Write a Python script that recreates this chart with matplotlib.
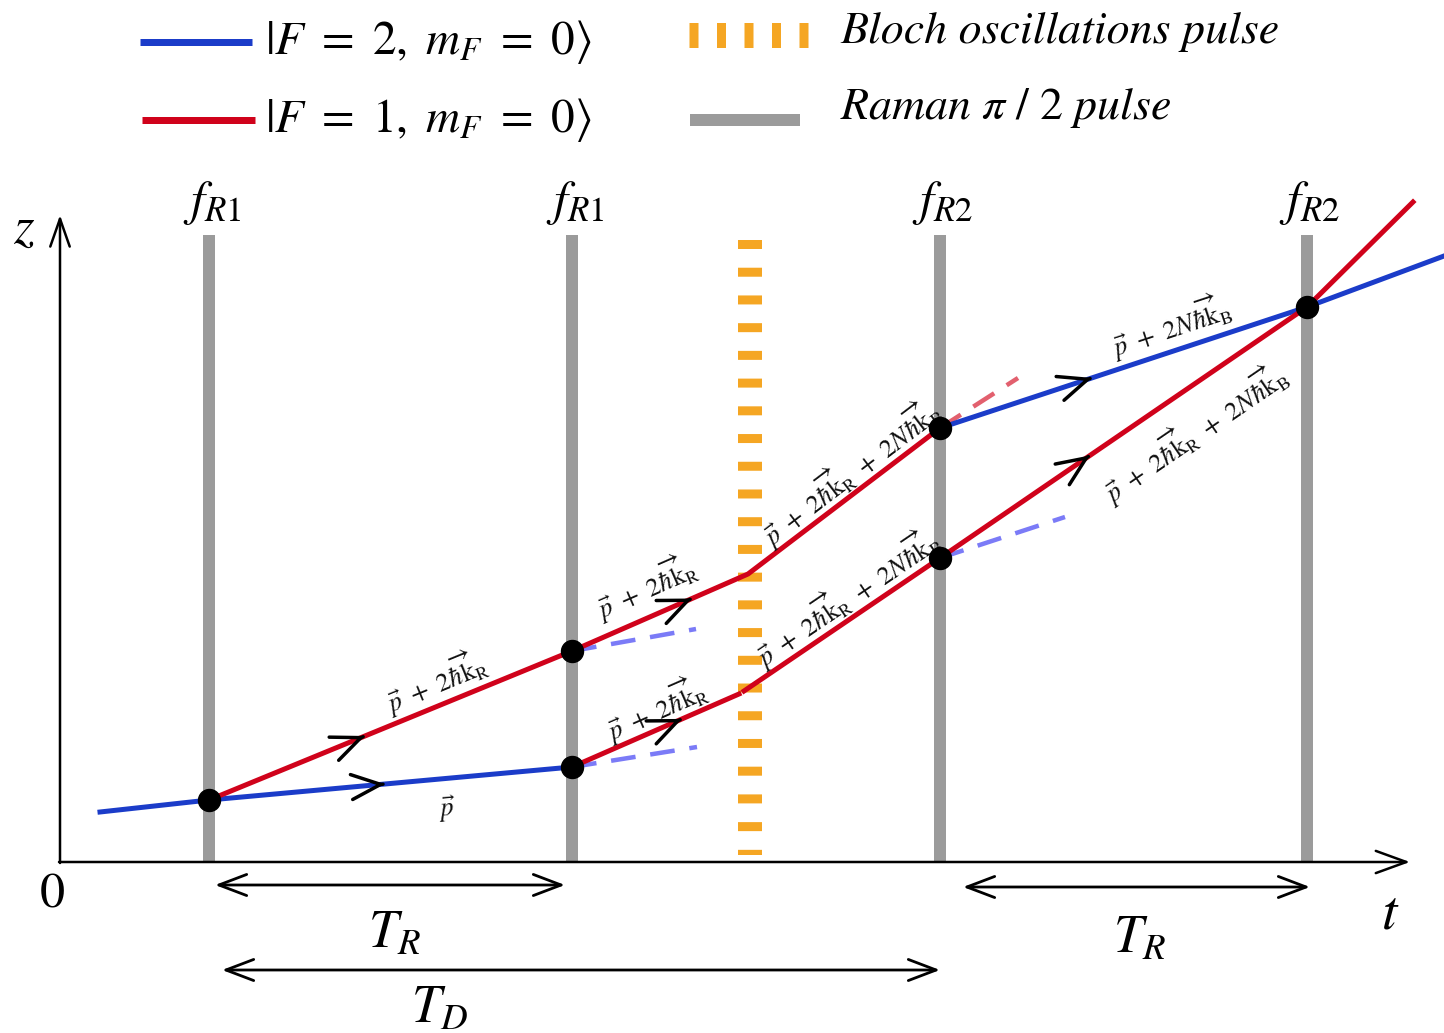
import numpy as np
import matplotlib
matplotlib.use('Agg')
import matplotlib.pyplot as plt

# ---- style ----
plt.rcParams['mathtext.fontset'] = 'stix'
plt.rcParams['font.family'] = ['STIXGeneral', 'DejaVu Serif']

C_BLUE = '#1b3cc9'
C_RED = '#d0021b'
C_BLUE_GHOST = '#7b7bf7'
C_RED_GHOST = '#e2606e'
C_GRAY = '#9b9b9b'
C_ORANGE = '#f5a623'
PX = 0.72  # points per pixel at dpi=100

# ---- pulse sequence (t in the same units as the drawing) ----
T_RAMAN = [149, 512, 880, 1247]
RAMAN_LABELS = [r'$f_{R1}$', r'$f_{R1}$', r'$f_{R2}$', r'$f_{R2}$']
RAMAN_TOP = 627
T_BLOCH = 690
BLOCH_SPAN = [622, 7]

# ---- trajectories z(t) ----
F2_IN_T = [40, 149, 512]
F2_IN_Z = [50, 62, 95]
F1_UPPER_T = [149, 512, 688, 880]
F1_UPPER_Z = [62, 211, 288, 434]
F1_LOWER_A_T = [512, 679]
F1_LOWER_A_Z = [95, 168]
F1_LOWER_B_T = [684, 880, 1247, 1353]
F1_LOWER_B_Z = [171, 304, 555, 660]
F2_OUT_T = [880, 1247, 1384]
F2_OUT_Z = [434, 555, 606]

# unused output ports (dashed)
GHOST_BLUE = [([512, 636], [211, 233]), ([512, 637], [95, 115]), ([880, 1005], [304, 345])]
GHOST_RED = [([880, 958], [434, 484])]

# beam splitter / recombination points
NODE_T = [149, 512, 512, 880, 880, 1247]
NODE_Z = [62, 211, 95, 434, 304, 555]

# direction chevrons: tip t, segment it sits on
CHEVRON_T = [305, 325, 632, 622, 1032, 1030]
CHEVRON_SEG = [((149, 62), (512, 211)), ((149, 62), (512, 95)),
               ((512, 211), (688, 288)), ((512, 95), (679, 168)),
               ((880, 434), (1247, 555)), ((880, 304), (1247, 555))]

# momentum labels
P_R = r'$\vec{p}\ +\ 2\overrightarrow{\hbar\mathrm{k}}_\mathrm{R}$'
P_B = r'$\vec{p}\ +\ 2N\overrightarrow{\hbar\mathrm{k}}_\mathrm{B}$'
P_RB = (r'$\vec{p}\ +\ 2\overrightarrow{\hbar\mathrm{k}}_\mathrm{R}'
        r'\ +\ 2N\overrightarrow{\hbar\mathrm{k}}_\mathrm{B}$')
MOMENTUM_LABELS = [
    (P_R, (149, 62), (512, 211), 385, 24),
    (r'$\vec{p}$', (149, 62), (512, 95), 385, -30),
    (P_R, (512, 211), (688, 288), 598, 30),
    (P_R, (512, 95), (679, 168), 604, 21),
    (P_RB, (688, 288), (880, 434), 802, 20),
    (P_RB, (684, 171), (880, 304), 798, 20),
    (P_B, (880, 434), (1247, 555), 1118, 25),
    (P_RB, (880, 304), (1247, 555), 1112, -40),
]

fig = plt.figure(figsize=(14.44, 10.33), dpi=100)
ax = fig.add_axes([0, 0, 1, 1])
ax.set_xlim(-60, 1384)
ax.set_ylim(-171, 862)
ax.axis('off')


def open_arrow(tip, tail, hl=1.0, hw=0.42, style='->', lw=2.2):
    ax.annotate('', xy=tip, xytext=tail,
                arrowprops=dict(arrowstyle=f'{style},head_length={hl},head_width={hw}',
                                mutation_scale=20, lw=lw, color='k',
                                shrinkA=0, shrinkB=0))


def chevron(t_tip, p0, p1):
    d = np.subtract(p1, p0).astype(float)
    d /= np.hypot(*d)
    z_tip = p0[1] + (t_tip - p0[0]) * (p1[1] - p0[1]) / (p1[0] - p0[0])
    tip = np.array([t_tip, z_tip])
    open_arrow(tip, tip - 2 * d, hl=1.05, hw=0.45, lw=2.5)


def seg_label(txt, p0, p1, t_at, off, size=19):
    (t0, z0), (t1, z1) = p0, p1
    z_at = z0 + (t_at - t0) * (z1 - z0) / (t1 - t0)
    ang = np.arctan2(z1 - z0, t1 - t0)
    pos = np.array([t_at, z_at]) + off * np.array([-np.sin(ang), np.cos(ang)])
    ax.text(pos[0], pos[1], txt, rotation=np.degrees(ang), rotation_mode='anchor',
            ha='center', va='center', fontsize=size, color='#111111')


# ---- pulses ----
for t, lab in zip(T_RAMAN, RAMAN_LABELS):
    ax.plot([t, t], [0, RAMAN_TOP], color=C_GRAY, lw=12 * PX, solid_capstyle='butt', zorder=1)
    ax.text(t + 3, RAMAN_TOP + 8, lab, ha='center', va='bottom', fontsize=36)
ax.plot([T_BLOCH, T_BLOCH], BLOCH_SPAN, color=C_ORANGE, lw=24 * PX,
        linestyle=(0, (0.375, 0.78)), dash_capstyle='butt', zorder=1)

# ---- axes ----
open_arrow((0, 647), (0, -1), hl=1.0, hw=0.35, lw=1.8)
open_arrow((1350, 0), (-1, 0), hl=1.1, hw=0.4, lw=1.8)
ax.text(-36, 632, r'$z$', fontsize=38, ha='center', va='center')
ax.text(-8, -34, '0', fontsize=36, ha='center', va='center')
ax.text(1330, -53, r'$t$', fontsize=40, ha='center', va='center')

# ---- trajectories ----
lw = 5 * PX
for tt, zz in GHOST_BLUE:
    ax.plot(tt, zz, color=C_BLUE_GHOST, lw=4.5 * PX, linestyle=(0, (5.5, 3.3)), zorder=2)
for tt, zz in GHOST_RED:
    ax.plot(tt, zz, color=C_RED_GHOST, lw=4.5 * PX, linestyle=(0, (5.5, 3.3)), zorder=2)
ax.plot(F2_IN_T, F2_IN_Z, color=C_BLUE, lw=lw, zorder=3)
ax.plot(F2_OUT_T, F2_OUT_Z, color=C_BLUE, lw=lw, zorder=3)
ax.plot(F1_UPPER_T, F1_UPPER_Z, color=C_RED, lw=lw, zorder=3)
ax.plot(F1_LOWER_A_T, F1_LOWER_A_Z, color=C_RED, lw=lw, zorder=3)
ax.plot(F1_LOWER_B_T, F1_LOWER_B_Z, color=C_RED, lw=lw, zorder=3)
ax.plot(NODE_T, NODE_Z, 'o', color='k', ms=22 * PX, zorder=5)

for t_tip, (p0, p1) in zip(CHEVRON_T, CHEVRON_SEG):
    chevron(t_tip, p0, p1)

for txt, p0, p1, t_at, off in MOMENTUM_LABELS:
    seg_label(txt, p0, p1, t_at, off)

# ---- interval markers ----
open_arrow((505, -23), (155, -23), hl=1.0, hw=0.38, style='<->', lw=2.0)
open_arrow((1250, -25), (903, -25), hl=1.0, hw=0.38, style='<->', lw=2.0)
open_arrow((880, -108), (162, -108), hl=1.0, hw=0.38, style='<->', lw=2.0)
ax.text(335, -73, r'$T_R$', fontsize=38, ha='center', va='center')
ax.text(1080, -78, r'$T_R$', fontsize=38, ha='center', va='center')
ax.text(380, -148, r'$T_D$', fontsize=38, ha='center', va='center')

# ---- legend ----
ax.plot([80, 192], [820, 820], color=C_BLUE, lw=7 * PX, solid_capstyle='butt')
ax.plot([82, 195], [742, 742], color=C_RED, lw=7 * PX, solid_capstyle='butt')
ax.text(205, 820, r'$|F\ =\ 2,\ m_F\ =\ 0\rangle$', fontsize=34, va='center')
ax.text(205, 742, r'$|F\ =\ 1,\ m_F\ =\ 0\rangle$', fontsize=34, va='center')
ax.plot([629, 749], [827, 827], color=C_ORANGE, lw=25 * PX,
        linestyle=(0, (0.36, 0.74)), dash_capstyle='butt')
ax.plot([630, 740], [742, 742], color=C_GRAY, lw=12 * PX, solid_capstyle='butt')
ax.text(780, 830, 'Bloch oscillations pulse', fontsize=33, style='italic', va='center')
ax.text(780, 754, r'$Raman\ \pi\ /\ \mathrm{2}\ pulse$', fontsize=33, va='center')

fig.savefig('out.png', dpi=100, facecolor='white')
